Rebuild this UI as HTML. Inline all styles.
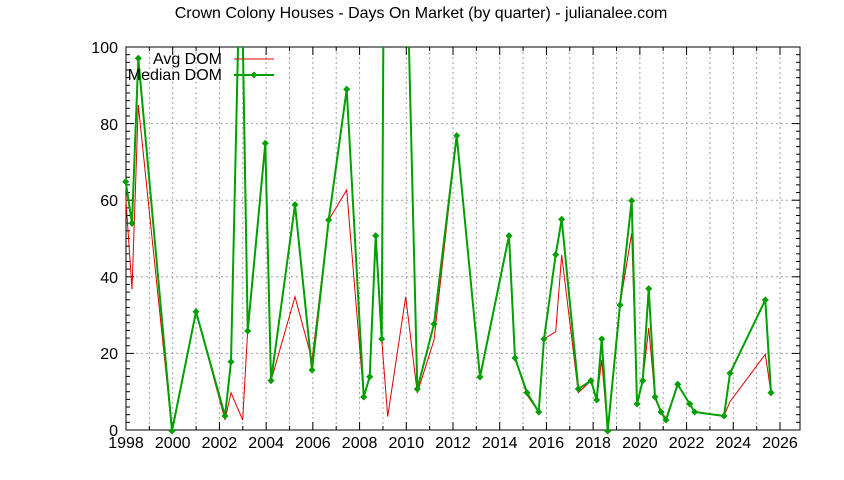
<!DOCTYPE html>
<html><head><meta charset="utf-8"><style>body{margin:0;background:#fff}svg{display:block}text{font-family:"Liberation Sans",sans-serif;fill:#000}</style></head><body>
<svg width="844" height="480" viewBox="0 0 844 480" xmlns="http://www.w3.org/2000/svg">
<defs><clipPath id="c"><rect x="121" y="47" width="679" height="388"/></clipPath></defs>
<text x="421" y="18" font-size="16" text-anchor="middle">Crown Colony Houses - Days On Market (by quarter) - julianalee.com</text>
<g stroke="#a0a0a0" stroke-width="1" stroke-dasharray="2,3">
<path d="M126 353.4H800M126 276.8H800M126 200.2H800M126 123.6H800"/>
</g>
<g id="grid" stroke="#a0a0a0" stroke-width="1" stroke-dasharray="2,3"></g>
<g id="ticks" stroke="#000" stroke-width="1"></g>
<rect x="126" y="47" width="674" height="383" fill="none" stroke="#000" stroke-width="1"/>
<g font-size="16" text-anchor="end">
<text x="118" y="436">0</text><text x="118" y="359">20</text><text x="118" y="283">40</text><text x="118" y="206">60</text><text x="118" y="130">80</text><text x="118" y="53">100</text>
</g>
<g font-size="16" text-anchor="middle">
<text x="126" y="448">1998</text><text x="172.7" y="448">2000</text><text x="219.4" y="448">2002</text><text x="266.1" y="448">2004</text><text x="312.9" y="448">2006</text><text x="359.6" y="448">2008</text><text x="406.3" y="448">2010</text><text x="453" y="448">2012</text><text x="499.7" y="448">2014</text><text x="546.4" y="448">2016</text><text x="593.1" y="448">2018</text><text x="639.9" y="448">2020</text><text x="686.6" y="448">2022</text><text x="733.3" y="448">2024</text><text x="780" y="448">2026</text>
</g>
<g clip-path="url(#c)">
<polyline fill="none" stroke="#e00000" stroke-width="1" points="125.7,196.7 132,289.3 138.3,105 172,431 196,311.7 225,420 231,392.7 242.7,420 247.7,330 265.3,143.3 271,380.7 295,296.7 312,360 328.7,220 346.7,190 363.7,397 369.7,376.7 375.7,235.7 381.7,339 387.7,416.7 405.7,296.7 417.3,393 434,340 456.7,135.7 480,377 509,235.7 515,358 527,395 538.7,412 544,339 555.7,331.7 561.7,255 578.3,392.7 591,380.7 596.7,400 601.7,360 607.7,431 620,305 631.7,233 637,404 642.7,380.7 648.7,328 655,397 661,412 666,418 677.7,384.3 689.7,404 694.7,412 724,416 730,401.7 765.3,354.3 771,392.7"/>
<polyline id="g" fill="none" stroke="#00a000" stroke-width="2" points="125.7,181.7 132,223.3 138.3,58.3 172,431 196,311.7 225,416 231,361.7 240.8,-79 247.7,331 265.3,143.3 271,380.7 295,204.7 312,370 328.7,220 346.7,89.3 363.7,397 369.7,376.7 375.7,235.7 381.7,339 387.7,-753 405.7,-88 417.3,389 434,324 456.7,135.7 480,377 509,235.7 515,358 527,392.7 538.7,412 544,339 555.7,254.7 561.7,219.3 578.3,389 591,380.7 596.7,400 601.7,339 607.7,431 620,305 631.7,200.7 637,404 642.7,380.7 648.7,288.7 655,397 661,412 666,420 677.7,384.3 689.7,404 694.7,412 724,416 730,373.3 765.3,300 771,392.7"/>
<g id="pts" fill="#00a000"></g>
</g>
<text x="222" y="64" font-size="16" text-anchor="end">Avg DOM</text>
<line x1="234" y1="59" x2="274" y2="59" stroke="#e00000" stroke-width="1"/>
<text x="222" y="80" font-size="16" text-anchor="end">Median DOM</text>
<line x1="234" y1="75" x2="274" y2="75" stroke="#00a000" stroke-width="2"/>
<rect x="251.5" y="72.5" width="5" height="5" fill="#00a000" transform="rotate(45 254 75)"/>
<script>
var ns="http://www.w3.org/2000/svg";
var gr=document.getElementById("grid"),tk=document.getElementById("ticks");
function ln(p,x1,y1,x2,y2){var l=document.createElementNS(ns,"line");l.setAttribute("x1",x1);l.setAttribute("y1",y1);l.setAttribute("x2",x2);l.setAttribute("y2",y2);p.appendChild(l);}
for(var i=1;i<=28;i++){var x=126+i*23.357;ln(gr,x,47,x,430);}
for(var i=0;i<=28;i++){var x=126+i*23.357;ln(tk,x,430,x,i%2?426:422);ln(tk,x,47,x,i%2?51:55);}
for(var v=0;v<=100;v+=2){var y=430-v*3.83,L=v%20?4:8;ln(tk,126,y,126+L,y);ln(tk,800,y,800-L,y);}
var pts=document.getElementById("g").getAttribute("points").trim().split(/\s+/),pg=document.getElementById("pts");
pts.forEach(function(p){var a=p.split(",");if(+a[1]<40)return;var r=document.createElementNS(ns,"rect");r.setAttribute("x",a[0]-2.5);r.setAttribute("y",a[1]-2.5);r.setAttribute("width",5);r.setAttribute("height",5);r.setAttribute("transform","rotate(45 "+a[0]+" "+a[1]+")");pg.appendChild(r);});
</script>
</svg>
</body></html>
